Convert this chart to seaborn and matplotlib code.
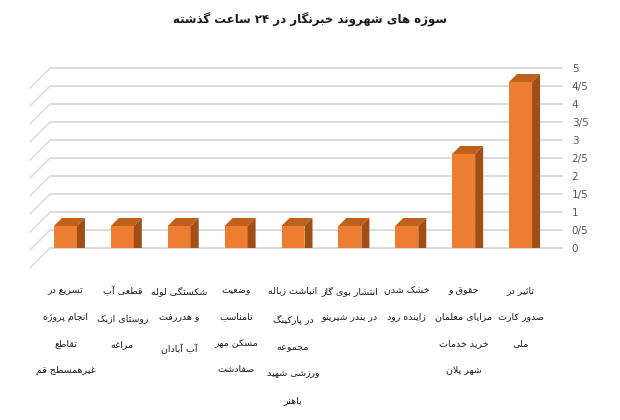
import re
import matplotlib
matplotlib.use('Agg')
import matplotlib.pyplot as plt
import matplotlib.transforms as mtransforms
from matplotlib.patches import Polygon
import seaborn as sns

# داده‌ها (از چپ به راست، همان ترتیب نمودار)
labels = [
    'تسریع در\nانجام پروژه\nتقاطع\nغیرهمسطح قم',
    'قطعی آب\nروستای ازبک\nمراغه',
    'شکستگی لوله\nو هدررفت\nآب آبادان',
    'وضعیت\nنامناسب\nمسکن مهر\nصفادشت',
    'انباشت زباله\nدر پارکینگ\nمجموعه\nورزشی شهید\nباهنر',
    'انتشار بوی گاز\nدر بندر شیرینو',
    'خشک شدن\nزاینده رود',
    'حقوق و\nمزایای معلمان\nخرید خدمات\nشهر پلان',
    'تاثیر در\nصدور کارت\nملی',
]
values = [1, 1, 1, 1, 1, 1, 1, 3, 5]
yticks = [0, 0.5, 1, 1.5, 2, 2.5, 3, 3.5, 4, 4.5, 5]
title = 'سوژه های شهروند خبرنگار در ۲۴ ساعت گذشته'

# --- شکل‌دهی ساده حروف فارسی (matplotlib خودش انجام نمی‌دهد) ---
FORMS = {
    'ا': ('\uFE8D', '\uFE8E', None, None), 'آ': ('\uFE81', '\uFE82', None, None),
    'ب': ('\uFE8F', '\uFE90', '\uFE91', '\uFE92'), 'پ': ('\uFB56', '\uFB57', '\uFB58', '\uFB59'),
    'ت': ('\uFE95', '\uFE96', '\uFE97', '\uFE98'), 'ث': ('\uFE99', '\uFE9A', '\uFE9B', '\uFE9C'),
    'ج': ('\uFE9D', '\uFE9E', '\uFE9F', '\uFEA0'), 'چ': ('\uFB7A', '\uFB7B', '\uFB7C', '\uFB7D'),
    'ح': ('\uFEA1', '\uFEA2', '\uFEA3', '\uFEA4'), 'خ': ('\uFEA5', '\uFEA6', '\uFEA7', '\uFEA8'),
    'د': ('\uFEA9', '\uFEAA', None, None), 'ذ': ('\uFEAB', '\uFEAC', None, None),
    'ر': ('\uFEAD', '\uFEAE', None, None), 'ز': ('\uFEAF', '\uFEB0', None, None),
    'ژ': ('\uFB8A', '\uFB8B', None, None), 'س': ('\uFEB1', '\uFEB2', '\uFEB3', '\uFEB4'),
    'ش': ('\uFEB5', '\uFEB6', '\uFEB7', '\uFEB8'), 'ص': ('\uFEB9', '\uFEBA', '\uFEBB', '\uFEBC'),
    'ض': ('\uFEBD', '\uFEBE', '\uFEBF', '\uFEC0'), 'ط': ('\uFEC1', '\uFEC2', '\uFEC3', '\uFEC4'),
    'ظ': ('\uFEC5', '\uFEC6', '\uFEC7', '\uFEC8'), 'ع': ('\uFEC9', '\uFECA', '\uFECB', '\uFECC'),
    'غ': ('\uFECD', '\uFECE', '\uFECF', '\uFED0'), 'ف': ('\uFED1', '\uFED2', '\uFED3', '\uFED4'),
    'ق': ('\uFED5', '\uFED6', '\uFED7', '\uFED8'), 'ک': ('\uFB8E', '\uFB8F', '\uFB90', '\uFB91'),
    'گ': ('\uFB92', '\uFB93', '\uFB94', '\uFB95'), 'ل': ('\uFEDD', '\uFEDE', '\uFEDF', '\uFEE0'),
    'م': ('\uFEE1', '\uFEE2', '\uFEE3', '\uFEE4'), 'ن': ('\uFEE5', '\uFEE6', '\uFEE7', '\uFEE8'),
    'و': ('\uFEED', '\uFEEE', None, None), 'ه': ('\uFEE9', '\uFEEA', '\uFEEB', '\uFEEC'),
    'ی': ('\uFBFC', '\uFBFD', '\uFBFE', '\uFBFF'), 'ئ': ('\uFE89', '\uFE8A', '\uFE8B', '\uFE8C'),
}


def shape_line(s):
    out = []
    i = 0
    while i < len(s):
        c = s[i]
        prev = s[i - 1] if i > 0 else ''
        nxt = s[i + 1] if i + 1 < len(s) else ''
        prev_join = prev in FORMS and FORMS[prev][2] is not None
        if c not in FORMS:
            out.append(c)
            i += 1
            continue
        if c == 'ل' and nxt == 'ا':
            out.append('\uFEFC' if prev_join else '\uFEFB')
            i += 2
            continue
        iso, fin, ini, med = FORMS[c]
        next_join = nxt in FORMS and ini is not None
        if prev_join and next_join:
            out.append(med)
        elif prev_join:
            out.append(fin)
        elif next_join:
            out.append(ini)
        else:
            out.append(iso)
        i += 1
    tokens = re.findall(r'[0-9۰-۹]+|.', ''.join(out))
    return ''.join(reversed(tokens))


def fa(text):
    return '\n'.join(shape_line(l) for l in text.split('\n'))


sns.set_style('white')
plt.rcParams['font.family'] = ['DejaVu Sans']

W, H = 620, 420
fig = plt.figure(figsize=(W / 100, H / 100), dpi=100)
# محور = دیوار پشتی نمودار سه‌بعدی
ax = fig.add_axes([50 / W, 1 - 248 / H, 512 / W, 180 / H])


def px(dx, dy):
    return mtransforms.ScaledTranslation(dx / 100, dy / 100, fig.dpi_scale_trans)


orange = '#ed7d31'
top_c = '#c0601e'
side_c = '#a04e16'

sns.barplot(x=list(range(len(values))), y=values, color=orange, width=0.404,
            saturation=1, ax=ax, zorder=3)
ax.set_xlim(-0.5, len(values) - 0.5)
ax.set_ylim(0, 5)

shift = ax.transData + px(-13, -14)
ddx, ddy = 8 / 56.9, 8 / 36
for p in ax.patches:
    p.set_transform(shift)
    p.set_edgecolor('none')
    x0, w, h = p.get_x(), p.get_width(), p.get_height()
    x1 = x0 + w
    ax.add_patch(Polygon([(x0, h), (x1, h), (x1 + ddx, h + ddy), (x0 + ddx, h + ddy)],
                         closed=True, facecolor=top_c, edgecolor='none', transform=shift, zorder=3))
    ax.add_patch(Polygon([(x1, 0), (x1, h), (x1 + ddx, h + ddy), (x1 + ddx, ddy)],
                         closed=True, facecolor=side_c, edgecolor='none', transform=shift, zorder=3))

# خطوط شبکه روی دیوار و خطوط مورب کف
for v in yticks:
    ax.plot([0, 1], [v, v], color='#d9d9d9', lw=1.3, transform=ax.get_yaxis_transform(),
            clip_on=False, zorder=1)
    ax.plot([0, -20 / 512], [v, v - 20 / 36], color='#d9d9d9', lw=1.1,
            transform=ax.get_yaxis_transform(), clip_on=False, zorder=1)

ax.yaxis.tick_right()
ax.set_yticks(yticks)
ax.set_yticklabels([f'{v:g}'.replace('.', '/') for v in yticks], fontsize=7.5, color='#595959')
ax.tick_params(axis='y', length=0, pad=7)
ax.set_xticks([])
ax.set_xlabel('')
ax.set_ylabel('')
sns.despine(ax=ax, left=True, right=True, top=True, bottom=True)

for i, lab in enumerate(labels):
    ax.text(i, 0, fa(lab), transform=ax.get_xaxis_transform() + px(-13, -38),
            ha='center', va='top', fontsize=6.8, linespacing=3.5, color='#1a1a1a')

fig.text(0.5, 1 - 20 / H, fa(title), ha='center', va='center', fontsize=8.5,
         fontweight='bold', color='#1a1a1a')

fig.savefig('out.png', dpi=100)
